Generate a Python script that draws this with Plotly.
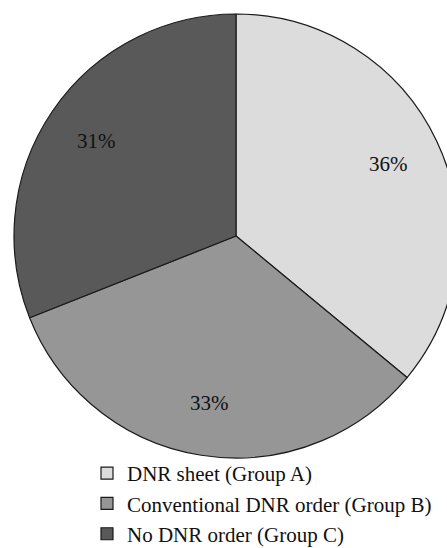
import math
import plotly.graph_objects as go

groups = ["DNR sheet (Group A)", "Conventional DNR order (Group B)", "No DNR order (Group C)"]
shares = [36, 33, 31]
fills = ["#dcdcdc", "#969696", "#595959"]

W, H = 470, 548
serif = "Liberation Serif, Times New Roman, serif"

# pie placement in pixels (centre and radius), converted to a paper domain
cx, cy, r = 236, 236, 222
dom_x = [(cx - r) / W, (cx + r) / W]
dom_y = [(H - cy - r) / H, (H - cy + r) / H]

fig = go.Figure(
    go.Pie(
        labels=groups,
        values=shares,
        sort=False,
        direction="clockwise",
        rotation=0,
        marker=dict(colors=fills, line=dict(color="#1a1a1a", width=1.2)),
        textinfo="none",
        hoverinfo="label+percent",
        domain=dict(x=dom_x, y=dom_y),
    )
)

# percentage labels sit on each slice's bisector, toward the rim
total = sum(shares)
label_r = 0.76 * r
acc = 0
for v in shares:
    mid = (acc + v / 2) / total * 2 * math.pi
    acc += v
    px = cx + label_r * math.sin(mid)
    py = cy - label_r * math.cos(mid)
    fig.add_annotation(
        x=px / W, y=(H - py) / H, xref="paper", yref="paper",
        xanchor="center", yanchor="middle",
        text=f"{v}%", showarrow=False,
        font=dict(family=serif, size=21, color="#111111"),
    )

fig.update_layout(
    width=W,
    height=H,
    margin=dict(l=0, r=0, t=0, b=0, autoexpand=False),
    paper_bgcolor="white",
    plot_bgcolor="white",
    showlegend=True,
    legend=dict(
        x=87 / W,
        y=(H - 453) / H,
        xanchor="left",
        yanchor="top",
        font=dict(family=serif, size=21, color="#111111"),
        bgcolor="rgba(0,0,0,0)",
        tracegroupgap=0,
    ),
)

fig.write_html(
    "out.html",
    post_script="document.body.style.margin='0';document.body.style.overflow='hidden';",
)
